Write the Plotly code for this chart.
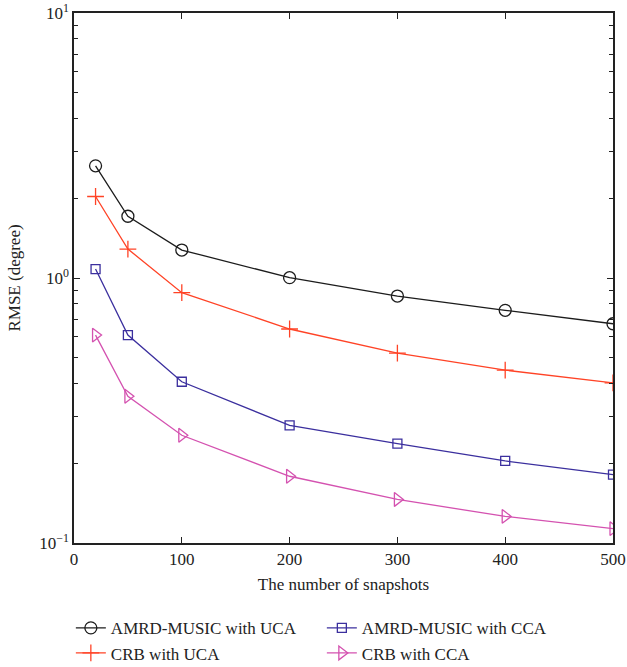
import plotly.graph_objects as go

snapshots = [20, 50, 100, 200, 300, 400, 500]
amrd_uca = [2.65, 1.71, 1.275, 1.003, 0.855, 0.755, 0.672]
crb_uca = [2.03, 1.286, 0.880, 0.642, 0.521, 0.449, 0.402]
amrd_cca = [1.081, 0.609, 0.406, 0.278, 0.237, 0.204, 0.181]
crb_cca = [0.609, 0.358, 0.255, 0.1786, 0.146, 0.126, 0.1133]

names = ["AMRD-MUSIC with UCA", "AMRD-MUSIC with CCA", "CRB with UCA", "CRB with CCA"]
series = [amrd_uca, amrd_cca, crb_uca, crb_cca]
colors = ["#1c1c1c", "#3b2f9e", "#ff4326", "#d452b0"]
symbols = ["circle-open", "square-open", "cross-thin-open", "triangle-right-open"]
sizes = [12, 9, 12, 12]

fig = go.Figure()
for n, s, c, sym, sz in zip(names, series, colors, symbols, sizes):
    fig.add_trace(go.Scatter(
        x=snapshots, y=s, name=n, mode="lines+markers",
        line=dict(color=c, width=1.3),
        marker=dict(symbol=sym, size=sz, color=c, line=dict(color=c, width=1.3)),
    ))

font = "Liberation Serif, Times New Roman, serif"
fig.update_layout(
    width=627, height=667,
    margin=dict(l=74, r=14, t=13, b=124, autoexpand=False),
    paper_bgcolor="white", plot_bgcolor="white",
    font=dict(family=font, size=17, color="#222222"),
    xaxis=dict(
        range=[0, 500], tickmode="array", tickvals=[0, 100, 200, 300, 400, 500],
        ticks="inside", ticklen=6, tickwidth=1, tickcolor="#222222",
        showline=True, linecolor="#222222", linewidth=1.5, mirror="ticks",
        showgrid=False, zeroline=False,
        title=dict(text="The number of snapshots", font=dict(size=17), standoff=10),
    ),
    yaxis=dict(
        type="log", range=[-1, 1],
        tickmode="array", tickvals=[0.1, 1, 10],
        ticktext=["10<sup>−1</sup>", "10<sup>0</sup>", "10<sup>1</sup>"],
        ticks="inside", ticklen=6, tickwidth=1, tickcolor="#222222",
        minor=dict(ticks="inside", ticklen=4, tickcolor="#222222",
                   tickvals=[v * d for d in (0.1, 1) for v in range(2, 10)]),
        showline=True, linecolor="#222222", linewidth=1.5, mirror="ticks",
        showgrid=False, zeroline=False,
        title=dict(text="RMSE (degree)", font=dict(size=17), standoff=14),
    ),
    legend=dict(
        orientation="h", xref="container", x=0.113, xanchor="left",
        yref="container", y=0.085, yanchor="top",
        entrywidth=206, entrywidthmode="pixels",
        font=dict(size=17), traceorder="normal",
        tracegroupgap=0, itemwidth=30,
    ),
    showlegend=True,
)

fig.write_html("out.html")
